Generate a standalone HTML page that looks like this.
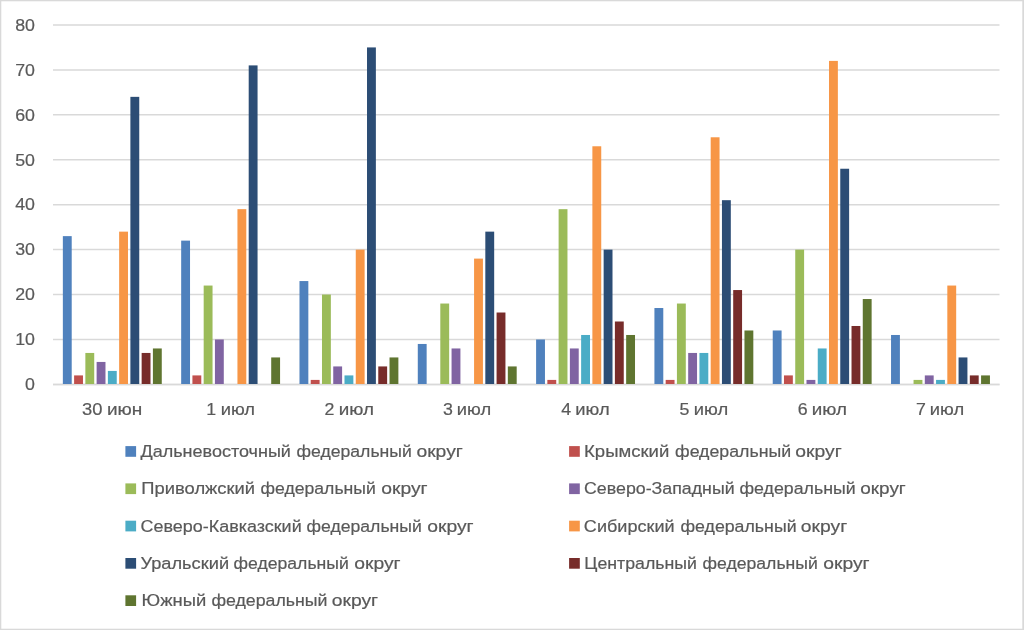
<!DOCTYPE html>
<html lang="ru"><head><meta charset="utf-8"><title>Chart</title>
<style>
html,body{margin:0;padding:0;background:#fff;}
body{width:1024px;height:630px;overflow:hidden;}
svg{display:block;}
text{font-family:"Liberation Sans",sans-serif;fill:#595959;stroke:#595959;stroke-width:0.2px;}
</style></head><body>
<svg width="1024" height="630" viewBox="0 0 1024 630">
<rect x="0" y="0" width="1024" height="630" fill="#ffffff"/>
<rect x="0.65" y="0.65" width="1022.7" height="628.7" fill="none" stroke="#d9d9d9" stroke-width="1.3"/>
<rect x="1022.4" y="0" width="1.6" height="630" fill="#d9d9d9"/>

<g stroke="#d9d9d9" stroke-width="1.5">
<line x1="53.0" y1="384.40" x2="999.5" y2="384.40"/>
<line x1="53.0" y1="339.47" x2="999.5" y2="339.47"/>
<line x1="53.0" y1="294.54" x2="999.5" y2="294.54"/>
<line x1="53.0" y1="249.61" x2="999.5" y2="249.61"/>
<line x1="53.0" y1="204.68" x2="999.5" y2="204.68"/>
<line x1="53.0" y1="159.75" x2="999.5" y2="159.75"/>
<line x1="53.0" y1="114.82" x2="999.5" y2="114.82"/>
<line x1="53.0" y1="69.89" x2="999.5" y2="69.89"/>
<line x1="53.0" y1="24.96" x2="999.5" y2="24.96"/>
</g>
<g font-size="16.8" text-anchor="end">
<text x="35.0" y="390.20" textLength="9.89" lengthAdjust="spacingAndGlyphs">0</text>
<text x="35.0" y="345.27" textLength="19.79" lengthAdjust="spacingAndGlyphs">10</text>
<text x="35.0" y="300.34" textLength="19.79" lengthAdjust="spacingAndGlyphs">20</text>
<text x="35.0" y="255.41" textLength="19.79" lengthAdjust="spacingAndGlyphs">30</text>
<text x="35.0" y="210.48" textLength="19.79" lengthAdjust="spacingAndGlyphs">40</text>
<text x="35.0" y="165.55" textLength="19.79" lengthAdjust="spacingAndGlyphs">50</text>
<text x="35.0" y="120.62" textLength="19.79" lengthAdjust="spacingAndGlyphs">60</text>
<text x="35.0" y="75.69" textLength="19.79" lengthAdjust="spacingAndGlyphs">70</text>
<text x="35.0" y="30.76" textLength="19.79" lengthAdjust="spacingAndGlyphs">80</text>
</g>
<line x1="53.0" y1="384.40" x2="999.5" y2="384.40" stroke="#d9d9d9" stroke-width="1.5"/>
<g>
<rect x="62.85" y="236.13" width="8.86" height="147.87" fill="#4f81bd"/>
<rect x="74.11" y="375.41" width="8.86" height="8.59" fill="#c0504d"/>
<rect x="85.36" y="352.95" width="8.86" height="31.05" fill="#9bbb59"/>
<rect x="96.62" y="361.94" width="8.86" height="22.07" fill="#8064a2"/>
<rect x="107.88" y="370.92" width="8.86" height="13.08" fill="#4bacc6"/>
<rect x="119.13" y="231.64" width="8.86" height="152.36" fill="#f79646"/>
<rect x="130.39" y="96.85" width="8.86" height="287.15" fill="#2c4d75"/>
<rect x="141.64" y="352.95" width="8.86" height="31.05" fill="#772c2a"/>
<rect x="152.90" y="348.46" width="8.86" height="35.54" fill="#5f7530"/>
</g>
<g>
<rect x="181.17" y="240.62" width="8.86" height="143.38" fill="#4f81bd"/>
<rect x="192.42" y="375.41" width="8.86" height="8.59" fill="#c0504d"/>
<rect x="203.68" y="285.55" width="8.86" height="98.45" fill="#9bbb59"/>
<rect x="214.93" y="339.47" width="8.86" height="44.53" fill="#8064a2"/>
<rect x="237.44" y="209.17" width="8.86" height="174.83" fill="#f79646"/>
<rect x="248.70" y="65.40" width="8.86" height="318.60" fill="#2c4d75"/>
<rect x="271.21" y="357.44" width="8.86" height="26.56" fill="#5f7530"/>
</g>
<g>
<rect x="299.48" y="281.06" width="8.86" height="102.94" fill="#4f81bd"/>
<rect x="310.73" y="379.91" width="8.86" height="4.09" fill="#c0504d"/>
<rect x="321.99" y="294.54" width="8.86" height="89.46" fill="#9bbb59"/>
<rect x="333.24" y="366.43" width="8.86" height="17.57" fill="#8064a2"/>
<rect x="344.50" y="375.41" width="8.86" height="8.59" fill="#4bacc6"/>
<rect x="355.76" y="249.61" width="8.86" height="134.39" fill="#f79646"/>
<rect x="367.01" y="47.42" width="8.86" height="336.58" fill="#2c4d75"/>
<rect x="378.27" y="366.43" width="8.86" height="17.57" fill="#772c2a"/>
<rect x="389.52" y="357.44" width="8.86" height="26.56" fill="#5f7530"/>
</g>
<g>
<rect x="417.79" y="343.96" width="8.86" height="40.04" fill="#4f81bd"/>
<rect x="440.30" y="303.53" width="8.86" height="80.47" fill="#9bbb59"/>
<rect x="451.56" y="348.46" width="8.86" height="35.54" fill="#8064a2"/>
<rect x="474.07" y="258.60" width="8.86" height="125.40" fill="#f79646"/>
<rect x="485.32" y="231.64" width="8.86" height="152.36" fill="#2c4d75"/>
<rect x="496.58" y="312.51" width="8.86" height="71.49" fill="#772c2a"/>
<rect x="507.83" y="366.43" width="8.86" height="17.57" fill="#5f7530"/>
</g>
<g>
<rect x="536.10" y="339.47" width="8.86" height="44.53" fill="#4f81bd"/>
<rect x="547.36" y="379.91" width="8.86" height="4.09" fill="#c0504d"/>
<rect x="558.61" y="209.17" width="8.86" height="174.83" fill="#9bbb59"/>
<rect x="569.87" y="348.46" width="8.86" height="35.54" fill="#8064a2"/>
<rect x="581.13" y="334.98" width="8.86" height="49.02" fill="#4bacc6"/>
<rect x="592.38" y="146.27" width="8.86" height="237.73" fill="#f79646"/>
<rect x="603.64" y="249.61" width="8.86" height="134.39" fill="#2c4d75"/>
<rect x="614.89" y="321.50" width="8.86" height="62.50" fill="#772c2a"/>
<rect x="626.15" y="334.98" width="8.86" height="49.02" fill="#5f7530"/>
</g>
<g>
<rect x="654.42" y="308.02" width="8.86" height="75.98" fill="#4f81bd"/>
<rect x="665.67" y="379.91" width="8.86" height="4.09" fill="#c0504d"/>
<rect x="676.93" y="303.53" width="8.86" height="80.47" fill="#9bbb59"/>
<rect x="688.18" y="352.95" width="8.86" height="31.05" fill="#8064a2"/>
<rect x="699.44" y="352.95" width="8.86" height="31.05" fill="#4bacc6"/>
<rect x="710.69" y="137.28" width="8.86" height="246.72" fill="#f79646"/>
<rect x="721.95" y="200.19" width="8.86" height="183.81" fill="#2c4d75"/>
<rect x="733.20" y="290.05" width="8.86" height="93.95" fill="#772c2a"/>
<rect x="744.46" y="330.48" width="8.86" height="53.52" fill="#5f7530"/>
</g>
<g>
<rect x="772.73" y="330.48" width="8.86" height="53.52" fill="#4f81bd"/>
<rect x="783.98" y="375.41" width="8.86" height="8.59" fill="#c0504d"/>
<rect x="795.24" y="249.61" width="8.86" height="134.39" fill="#9bbb59"/>
<rect x="806.49" y="379.91" width="8.86" height="4.09" fill="#8064a2"/>
<rect x="817.75" y="348.46" width="8.86" height="35.54" fill="#4bacc6"/>
<rect x="829.01" y="60.90" width="8.86" height="323.10" fill="#f79646"/>
<rect x="840.26" y="168.74" width="8.86" height="215.26" fill="#2c4d75"/>
<rect x="851.52" y="325.99" width="8.86" height="58.01" fill="#772c2a"/>
<rect x="862.77" y="299.03" width="8.86" height="84.97" fill="#5f7530"/>
</g>
<g>
<rect x="891.04" y="334.98" width="8.86" height="49.02" fill="#4f81bd"/>
<rect x="913.55" y="379.91" width="8.86" height="4.09" fill="#9bbb59"/>
<rect x="924.81" y="375.41" width="8.86" height="8.59" fill="#8064a2"/>
<rect x="936.06" y="379.91" width="8.86" height="4.09" fill="#4bacc6"/>
<rect x="947.32" y="285.55" width="8.86" height="98.45" fill="#f79646"/>
<rect x="958.57" y="357.44" width="8.86" height="26.56" fill="#2c4d75"/>
<rect x="969.83" y="375.41" width="8.86" height="8.59" fill="#772c2a"/>
<rect x="981.08" y="375.41" width="8.86" height="8.59" fill="#5f7530"/>
</g>
<rect x="125.4" y="446.1" width="10.7" height="10.7" fill="#4f81bd"/>
<rect x="569.1" y="446.1" width="10.7" height="10.7" fill="#c0504d"/>
<rect x="125.4" y="483.4" width="10.7" height="10.7" fill="#9bbb59"/>
<rect x="569.1" y="483.4" width="10.7" height="10.7" fill="#8064a2"/>
<rect x="125.4" y="520.7" width="10.7" height="10.7" fill="#4bacc6"/>
<rect x="569.1" y="520.7" width="10.7" height="10.7" fill="#f79646"/>
<rect x="125.4" y="558.0" width="10.7" height="10.7" fill="#2c4d75"/>
<rect x="569.1" y="558.0" width="10.7" height="10.7" fill="#772c2a"/>
<rect x="125.4" y="595.3" width="10.7" height="10.7" fill="#5f7530"/>
<g font-size="16.8">
<text x="140.46" y="456.9" textLength="150.45" lengthAdjust="spacingAndGlyphs">Дальневосточный</text>
<text x="296.52" y="456.9" textLength="115.29" lengthAdjust="spacingAndGlyphs">федеральный</text>
<text x="416.44" y="456.9" textLength="46.41" lengthAdjust="spacingAndGlyphs">округ</text>
<text x="584.04" y="456.9" textLength="85.22" lengthAdjust="spacingAndGlyphs">Крымский</text>
<text x="675.04" y="456.9" textLength="116.10" lengthAdjust="spacingAndGlyphs">федеральный</text>
<text x="795.36" y="456.9" textLength="46.43" lengthAdjust="spacingAndGlyphs">округ</text>
<text x="141.38" y="494.2" textLength="113.72" lengthAdjust="spacingAndGlyphs">Приволжский</text>
<text x="260.56" y="494.2" textLength="115.28" lengthAdjust="spacingAndGlyphs">федеральный</text>
<text x="381.28" y="494.2" textLength="46.41" lengthAdjust="spacingAndGlyphs">округ</text>
<text x="584.04" y="494.2" textLength="150.61" lengthAdjust="spacingAndGlyphs">Северо-Западный</text>
<text x="739.50" y="494.2" textLength="116.11" lengthAdjust="spacingAndGlyphs">федеральный</text>
<text x="860.22" y="494.2" textLength="45.58" lengthAdjust="spacingAndGlyphs">округ</text>
<text x="140.62" y="531.5" textLength="161.06" lengthAdjust="spacingAndGlyphs">Северо-Кавказский</text>
<text x="306.56" y="531.5" textLength="115.28" lengthAdjust="spacingAndGlyphs">федеральный</text>
<text x="427.28" y="531.5" textLength="46.41" lengthAdjust="spacingAndGlyphs">округ</text>
<text x="583.88" y="531.5" textLength="90.70" lengthAdjust="spacingAndGlyphs">Сибирский</text>
<text x="680.46" y="531.5" textLength="116.11" lengthAdjust="spacingAndGlyphs">федеральный</text>
<text x="800.78" y="531.5" textLength="46.43" lengthAdjust="spacingAndGlyphs">округ</text>
<text x="140.46" y="568.8" textLength="88.62" lengthAdjust="spacingAndGlyphs">Уральский</text>
<text x="233.56" y="568.8" textLength="115.28" lengthAdjust="spacingAndGlyphs">федеральный</text>
<text x="354.28" y="568.8" textLength="46.41" lengthAdjust="spacingAndGlyphs">округ</text>
<text x="584.32" y="568.8" textLength="112.58" lengthAdjust="spacingAndGlyphs">Центральный</text>
<text x="702.56" y="568.8" textLength="115.28" lengthAdjust="spacingAndGlyphs">федеральный</text>
<text x="823.28" y="568.8" textLength="46.41" lengthAdjust="spacingAndGlyphs">округ</text>
<text x="141.54" y="606.1" textLength="64.69" lengthAdjust="spacingAndGlyphs">Южный</text>
<text x="211.42" y="606.1" textLength="116.10" lengthAdjust="spacingAndGlyphs">федеральный</text>
<text x="331.74" y="606.1" textLength="46.43" lengthAdjust="spacingAndGlyphs">округ</text>
<text x="82.10" y="415.4" textLength="20.44" lengthAdjust="spacingAndGlyphs">30</text>
<text x="106.92" y="415.4" textLength="35.35" lengthAdjust="spacingAndGlyphs">июн</text>
<text x="220.72" y="415.4" textLength="34.31" lengthAdjust="spacingAndGlyphs">июл</text>
<text x="338.78" y="415.4" textLength="35.26" lengthAdjust="spacingAndGlyphs">июл</text>
<text x="456.84" y="415.4" textLength="34.31" lengthAdjust="spacingAndGlyphs">июл</text>
<text x="575.30" y="415.4" textLength="34.31" lengthAdjust="spacingAndGlyphs">июл</text>
<text x="693.76" y="415.4" textLength="34.41" lengthAdjust="spacingAndGlyphs">июл</text>
<text x="811.82" y="415.4" textLength="35.19" lengthAdjust="spacingAndGlyphs">июл</text>
<text x="929.88" y="415.4" textLength="34.31" lengthAdjust="spacingAndGlyphs">июл</text>
<text x="206.30" y="415.4" textLength="9.89" lengthAdjust="spacingAndGlyphs">1</text>
<text x="324.60" y="415.4" textLength="9.89" lengthAdjust="spacingAndGlyphs">2</text>
<text x="442.90" y="415.4" textLength="9.89" lengthAdjust="spacingAndGlyphs">3</text>
<text x="561.20" y="415.4" textLength="9.89" lengthAdjust="spacingAndGlyphs">4</text>
<text x="679.50" y="415.4" textLength="9.89" lengthAdjust="spacingAndGlyphs">5</text>
<text x="797.80" y="415.4" textLength="9.89" lengthAdjust="spacingAndGlyphs">6</text>
<text x="916.10" y="415.4" textLength="9.89" lengthAdjust="spacingAndGlyphs">7</text>
</g>
</svg></body></html>
